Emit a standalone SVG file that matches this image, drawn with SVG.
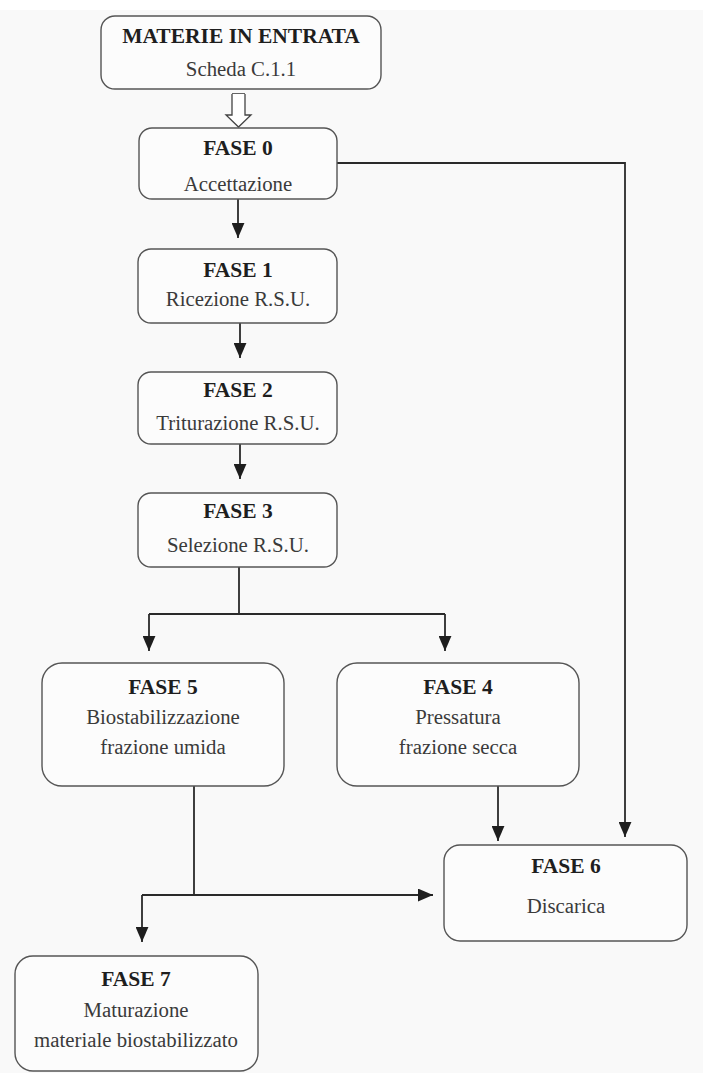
<svg xmlns="http://www.w3.org/2000/svg" width="703" height="1073" viewBox="0 0 703 1073">
<style>
.box{fill:#fcfcfc;stroke:#555;stroke-width:1.4}
.t{font-family:"Liberation Serif","Times New Roman",serif;font-size:20.8px;text-anchor:middle}
.b{font-weight:bold;fill:#1e1e1e;font-size:21.5px}
.n{fill:#3a3a3a}
.c{fill:none;stroke:#2a2a2a;stroke-width:1.8}
</style>
<defs>
<marker id="ah" viewBox="0 0 14 12" refX="14" refY="6" markerWidth="15" markerHeight="13" markerUnits="userSpaceOnUse" orient="auto">
<path d="M0,0 L14,6 L0,12 Z" fill="#1e1e1e"/>
</marker>
</defs>
<rect x="0" y="0" width="703" height="1073" fill="#f9f9f9"/>
<rect x="0" y="0" width="703" height="10" fill="#ffffff"/>

<g id="connectors">
<path d="M232,94 L245,94 M232,97 L245,97" stroke="#333" stroke-width="1.4"/>
<path d="M232,94 L232,115 L226,115 L238.5,127 L251,115 L245,115 L245,94" fill="#fff" stroke="#444" stroke-width="1.3"/>
<path class="c" d="M238,199 L238,238" marker-end="url(#ah)"/>
<path class="c" d="M240,323 L240,358" marker-end="url(#ah)"/>
<path class="c" d="M240,444 L240,479" marker-end="url(#ah)"/>
<path class="c" d="M239,567 L239,614"/>
<path class="c" d="M149,614 L445,614"/>
<path class="c" d="M149,614 L149,651" marker-end="url(#ah)"/>
<path class="c" d="M445,614 L445,651" marker-end="url(#ah)"/>
<path class="c" d="M337,163 L625,163 L625,837" marker-end="url(#ah)"/>
<path class="c" d="M498,786 L498,841" marker-end="url(#ah)"/>
<path class="c" d="M194,786 L194,895"/>
<path class="c" d="M142,895 L433,895" marker-end="url(#ah)"/>
<path class="c" d="M142,895 L142,942" marker-end="url(#ah)"/>
</g>

<g id="materie">
<rect class="box" x="101" y="16" width="280" height="73" rx="14"/>
<text class="t b" x="241" y="43">MATERIE IN ENTRATA</text>
<text class="t n" x="241" y="76">Scheda C.1.1</text>
</g>

<g id="fase0">
<rect class="box" x="139" y="128" width="198" height="71" rx="13"/>
<text class="t b" x="238" y="155">FASE 0</text>
<text class="t n" x="238" y="191">Accettazione</text>
</g>

<g id="fase1">
<rect class="box" x="138" y="249" width="199" height="74" rx="13"/>
<text class="t b" x="238" y="277">FASE 1</text>
<text class="t n" x="238" y="306">Ricezione R.S.U.</text>
</g>

<g id="fase2">
<rect class="box" x="138" y="372" width="199" height="72" rx="13"/>
<text class="t b" x="238" y="397">FASE 2</text>
<text class="t n" x="238" y="430">Triturazione R.S.U.</text>
</g>

<g id="fase3">
<rect class="box" x="138" y="493" width="199" height="74" rx="13"/>
<text class="t b" x="238" y="518">FASE 3</text>
<text class="t n" x="238" y="552">Selezione R.S.U.</text>
</g>

<g id="fase5">
<rect class="box" x="42" y="663" width="242" height="123" rx="20"/>
<text class="t b" x="163" y="694">FASE 5</text>
<text class="t n" x="163" y="724">Biostabilizzazione</text>
<text class="t n" x="163" y="754">frazione umida</text>
</g>

<g id="fase4">
<rect class="box" x="337" y="663" width="242" height="123" rx="20"/>
<text class="t b" x="458" y="694">FASE 4</text>
<text class="t n" x="458" y="724">Pressatura</text>
<text class="t n" x="458" y="754">frazione secca</text>
</g>

<g id="fase6">
<rect class="box" x="444" y="845" width="243" height="96" rx="16"/>
<text class="t b" x="566" y="873">FASE 6</text>
<text class="t n" x="566" y="913">Discarica</text>
</g>

<g id="fase7">
<rect class="box" x="15" y="956" width="243" height="115" rx="18"/>
<text class="t b" x="136" y="986">FASE 7</text>
<text class="t n" x="136" y="1017">Maturazione</text>
<text class="t n" x="136" y="1047">materiale biostabilizzato</text>
</g>
</svg>
